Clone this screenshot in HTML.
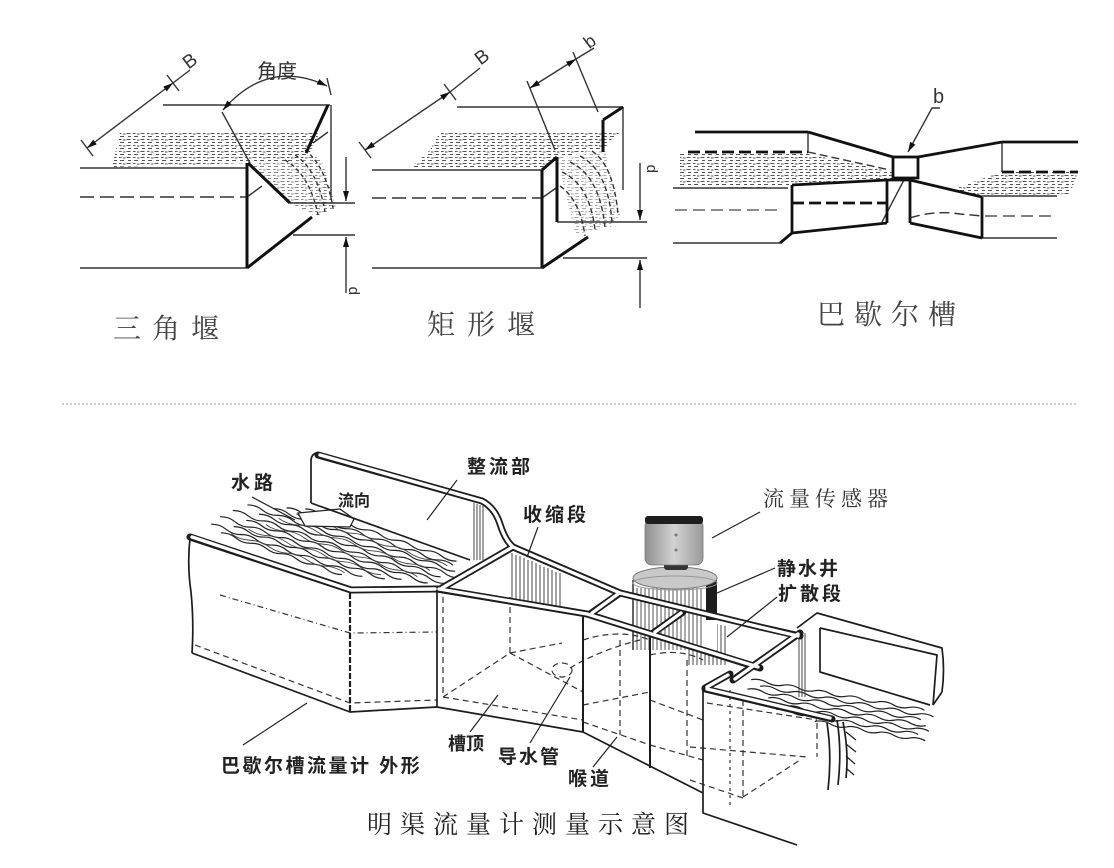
<!DOCTYPE html>
<html><head><meta charset="utf-8"><style>
html,body{margin:0;padding:0;background:#fff;}
svg{display:block;}
.s{font-family:"Liberation Sans","Noto Sans CJK SC",sans-serif;}
.r{font-family:"Liberation Serif","Noto Serif CJK SC",serif;}
</style></head><body>
<svg width="1114" height="868" viewBox="0 0 1114 868" xmlns="http://www.w3.org/2000/svg">
<defs>
<pattern id="sp" width="14" height="6" patternUnits="userSpaceOnUse">
<path d="M0.5,1.5h4M7,1.5h2.5M11,2h2.5M2,4.5h3M8,4.5h4" stroke="#555" stroke-width="1.1"/>
</pattern>
<marker id="ar" viewBox="0 0 10 6" refX="10" refY="3" markerWidth="10" markerHeight="6" markerUnits="userSpaceOnUse" orient="auto-start-reverse"><path d="M0,0L10,3L0,6z" fill="#111"/></marker>
<linearGradient id="hd" x1="0" x2="1"><stop offset="0" stop-color="#8e8e8e"/><stop offset="0.5" stop-color="#d2d2d2"/><stop offset="1" stop-color="#9a9a9a"/></linearGradient>
</defs>

<!-- ============ TRIANGLE WEIR ============ -->
<polygon points="120,132 320,132 306,160 250,163 112,167" fill="url(#sp)"/>
<polygon points="252,165 300,150 322,160 336,208 316,216 292,204" fill="url(#sp)" opacity="0.7"/>
<g fill="none" stroke="#333" stroke-width="1.4">
<line x1="80" y1="168" x2="247" y2="168"/>
<line x1="80" y1="197" x2="247" y2="197" stroke-dasharray="14 6"/>
<line x1="80" y1="268" x2="247" y2="268"/>
<line x1="163" y1="105" x2="330" y2="105"/>
<line x1="331" y1="105" x2="331" y2="200"/>
<line x1="222" y1="112" x2="250" y2="163"/>
<line x1="290" y1="203" x2="355" y2="203"/>
<line x1="293" y1="235" x2="355" y2="235"/>
<line x1="247" y1="197" x2="262" y2="186"/>
<line x1="313" y1="143" x2="328" y2="132"/>
<path d="M285,160 Q310,175 318,215" stroke-dasharray="4 3"/>
<path d="M295,155 Q318,170 325,212" stroke-dasharray="4 3"/>
<path d="M305,150 Q326,166 333,208" stroke-dasharray="4 3"/>
<path d="M346,157 L346,201" marker-end="url(#ar)"/>
<path d="M346,293 L346,237" marker-end="url(#ar)"/>
<path d="M87,148 L173,83" marker-start="url(#ar)" marker-end="url(#ar)"/>
<line x1="173" y1="83" x2="190" y2="70"/>
<line x1="81" y1="140" x2="93" y2="156"/>
<line x1="167" y1="75" x2="179" y2="91"/>
<path d="M223,110 Q268,58 327,86" marker-start="url(#ar)" marker-end="url(#ar)"/>
<line x1="327" y1="78" x2="331" y2="95"/>
</g>
<g fill="none" stroke="#111" stroke-width="3">
<line x1="247" y1="163" x2="247" y2="268"/>
<line x1="247" y1="268" x2="312" y2="217"/>
<line x1="248" y1="163" x2="290" y2="203"/>
<line x1="328" y1="105" x2="306" y2="153"/>
</g>
<text x="183" y="67" font-size="19" class="s" fill="#333" transform="rotate(-37 190 60)">B</text>
<text x="257" y="78" font-size="20" class="s" fill="#333">角度</text>
<text x="345" y="297" font-size="15" class="s" fill="#333" transform="rotate(-90 350 290)">p</text>
<text x="113" y="338" font-size="28" letter-spacing="11" fill="#444" class="r">三角堰</text>

<!-- ============ RECT WEIR ============ -->
<polygon points="440,132 620,132 605,148 560,158 545,167 410,168 430,150" fill="url(#sp)"/>
<polygon points="558,160 605,150 620,215 610,228 575,234" fill="url(#sp)" opacity="0.5"/>
<g fill="none" stroke="#333" stroke-width="1.4">
<line x1="372" y1="170" x2="542" y2="170"/>
<line x1="372" y1="198" x2="542" y2="198" stroke-dasharray="14 6"/>
<line x1="372" y1="268" x2="542" y2="268"/>
<line x1="557" y1="222" x2="647" y2="222"/>
<line x1="563" y1="258" x2="647" y2="258"/>
<line x1="457" y1="107" x2="623" y2="107"/>
<line x1="623" y1="107" x2="623" y2="190"/>
<line x1="542" y1="198" x2="556" y2="188"/>
<path d="M562,172 Q590,185 595,230" stroke-dasharray="5 3"/>
<path d="M570,162 Q600,176 605,228" stroke-dasharray="5 3"/>
<path d="M580,156 Q608,170 612,222" stroke-dasharray="5 3"/>
<path d="M592,151 Q614,166 618,215" stroke-dasharray="5 3"/>
<path d="M560,186 Q580,200 585,236" stroke-dasharray="5 3"/>
<path d="M640,163 L640,220" marker-end="url(#ar)"/>
<path d="M640,308 L640,260" marker-end="url(#ar)"/>
<path d="M365,150 L450,92" marker-start="url(#ar)" marker-end="url(#ar)"/>
<line x1="450" y1="92" x2="480" y2="68"/>
<line x1="359" y1="142" x2="371" y2="158"/>
<line x1="444" y1="84" x2="456" y2="100"/>
<path d="M530,88 L576,59" marker-start="url(#ar)" marker-end="url(#ar)"/>
<line x1="576" y1="59" x2="594" y2="48"/>
<line x1="527" y1="81" x2="555" y2="150"/>
<line x1="573" y1="52" x2="598" y2="112"/>
</g>
<g fill="none" stroke="#111" stroke-width="3">
<line x1="542" y1="170" x2="542" y2="268"/>
<line x1="542" y1="268" x2="588" y2="237"/>
<line x1="542" y1="170" x2="557" y2="157"/>
<line x1="557" y1="157" x2="557" y2="222"/>
<line x1="603" y1="120" x2="603" y2="152"/>
<line x1="603" y1="120" x2="623" y2="107"/>
</g>
<text x="475" y="63" font-size="19" class="s" fill="#333" transform="rotate(-37 482 56)">B</text>
<text x="584" y="47" font-size="18" class="s" fill="#333" transform="rotate(-37 590 40)">b</text>
<text x="644" y="172" font-size="15" class="s" fill="#333" transform="rotate(-90 650 167)">p</text>
<text x="427" y="334" font-size="28" letter-spacing="12" fill="#444" class="r">矩形堰</text>

<!-- ============ PARSHALL ============ -->
<polygon points="680,154 808,154 893,172 893,180 792,185 760,188 680,186" fill="url(#sp)"/>
<polygon points="950,190 1002,172 1078,172 1070,194 985,196" fill="url(#sp)"/>
<g fill="none" stroke="#333" stroke-width="1.4">
<line x1="808" y1="132" x2="808" y2="152"/>
<line x1="1002" y1="142" x2="1002" y2="172"/>
<line x1="808" y1="152" x2="890" y2="170" stroke-dasharray="8 4"/>
<line x1="673" y1="188" x2="788" y2="188"/>
<line x1="673" y1="243" x2="780" y2="243"/>
<line x1="982" y1="196" x2="1057" y2="196"/>
<line x1="982" y1="238" x2="1057" y2="238"/>
<line x1="675" y1="210" x2="780" y2="210" stroke-dasharray="12 6" stroke="#666"/>
<path d="M910,218 Q935,210 960,214 L982,216" stroke-dasharray="10 5"/>
<line x1="985" y1="216" x2="1057" y2="216" stroke-dasharray="12 6" stroke="#555"/>
<path d="M940,108 L932,108 L908,152" marker-end="url(#ar)"/>
<line x1="905" y1="178" x2="882" y2="222"/>
</g>
<g fill="none" stroke="#111" stroke-width="2.8">
<line x1="695" y1="132" x2="808" y2="132"/>
<line x1="808" y1="132" x2="893" y2="157"/>
<rect x="893" y="157" width="25" height="21"/>
<line x1="918" y1="157" x2="1002" y2="142"/>
<line x1="1002" y1="142" x2="1078" y2="142"/>
<line x1="688" y1="152" x2="808" y2="152" stroke-dasharray="12 5"/>
<line x1="1002" y1="172" x2="1078" y2="172" stroke-dasharray="12 5"/>
<line x1="780" y1="243" x2="792" y2="233"/>
<line x1="792" y1="185" x2="792" y2="233"/>
<line x1="792" y1="185" x2="887" y2="180"/>
<line x1="792" y1="233" x2="887" y2="223"/>
<line x1="887" y1="180" x2="887" y2="223"/>
<line x1="910" y1="180" x2="910" y2="223"/>
<line x1="887" y1="180" x2="910" y2="180"/>
<line x1="910" y1="180" x2="982" y2="197"/>
<line x1="910" y1="223" x2="982" y2="238"/>
<line x1="982" y1="197" x2="982" y2="238"/>
<line x1="792" y1="203" x2="887" y2="203" stroke-dasharray="12 5"/>
</g>
<text x="933" y="103" font-size="20" class="s" fill="#333">b</text>
<text x="817" y="324" font-size="28" letter-spacing="9" fill="#444" class="r">巴歇尔槽</text>

<!-- divider -->
<line x1="62" y1="404" x2="1078" y2="404" stroke="#cfcfcf" stroke-width="2" stroke-dasharray="2 2"/>

<!-- ============ BOTTOM DIAGRAM ============ -->
<!-- inlet water -->
<g transform="translate(200,532) rotate(19)" fill="none" stroke="#222" stroke-width="1.2">
<path d="M20,-6q8,-3 16,0t16,0t16,0t16,0t16,0t16,0t16,0t16,0"/>
<path d="M8,-11q8,-3 16,0t16,0t16,0t16,0t16,0t16,0t16,0t16,0t16,0t16,0"/>
<path d="M30,-16q8,-3 16,0t16,0t16,0t16,0t16,0t16,0t16,0t16,0t16,0t16,0"/>
<path d="M14,-21q8,-3 16,0t16,0t16,0t16,0t16,0t16,0t16,0t16,0t16,0t16,0t16,0t16,0"/>
<path d="M40,-26q8,-3 16,0t16,0t16,0t16,0t16,0t16,0t16,0t16,0t16,0t16,0t16,0t16,0"/>
<path d="M24,-31q8,-3 16,0t16,0t16,0t16,0t16,0t16,0t16,0t16,0t16,0t16,0t16,0t16,0t16,0t16,0"/>
<path d="M50,-36q8,-3 16,0t16,0t16,0t16,0t16,0t16,0t16,0t16,0t16,0t16,0t16,0t16,0"/>
<path d="M36,-41q8,-3 16,0t16,0t16,0t16,0t16,0t16,0t16,0t16,0t16,0t16,0t16,0t16,0t16,0t16,0"/>
<path d="M62,-46q8,-3 16,0t16,0t16,0t16,0t16,0t16,0t16,0t16,0t16,0t16,0t16,0t16,0"/>
<path d="M74,-51q8,-3 16,0t16,0t16,0t16,0t16,0t16,0t16,0t16,0t16,0t16,0t16,0"/>
<path d="M92,-56q8,-3 16,0t16,0t16,0t16,0t16,0t16,0t16,0t16,0t16,0t16,0"/>
</g>
<g transform="translate(200,532) rotate(19)" fill="none" stroke="#444" stroke-width="0.9">
<path d="M30,-8.5q10,3 20,0t20,0t20,0t20,0t20,0t20,0"/>
<path d="M45,-18.5q10,3 20,0t20,0t20,0t20,0t20,0t20,0t20,0"/>
<path d="M60,-28.5q10,3 20,0t20,0t20,0t20,0t20,0t20,0t20,0t20,0"/>
<path d="M70,-38.5q10,3 20,0t20,0t20,0t20,0t20,0t20,0t20,0t20,0"/>
<path d="M85,-48.5q10,3 20,0t20,0t20,0t20,0t20,0t20,0t20,0t20,0"/>
</g>
<path d="M298,513 L340,509 L354,519 L350,527 L305,526 Z" fill="#fff" stroke="#222" stroke-width="1.3"/>

<!-- outlet water -->
<g transform="translate(742,674) rotate(10)" fill="none" stroke="#222" stroke-width="1.2">
<path d="M10,4q8,-3 16,0t16,0t16,0t16,0t16,0t16,0t16,0t16,0t16,0t16,0t16,0"/>
<path d="M20,9q8,-3 16,0t16,0t16,0t16,0t16,0t16,0t16,0t16,0t16,0t16,0t16,0"/>
<path d="M8,14q8,-3 16,0t16,0t16,0t16,0t16,0t16,0t16,0t16,0t16,0t16,0t16,0"/>
<path d="M30,19q8,-3 16,0t16,0t16,0t16,0t16,0t16,0t16,0t16,0t16,0t16,0"/>
<path d="M18,24q8,-3 16,0t16,0t16,0t16,0t16,0t16,0t16,0t16,0t16,0t16,0t16,0"/>
<path d="M40,29q8,-3 16,0t16,0t16,0t16,0t16,0t16,0t16,0t16,0t16,0"/>
<path d="M80,34q8,-3 16,0t16,0t16,0t16,0t16,0t16,0t16,0"/>
</g>

<!-- hatched columns -->
<g stroke="#333" stroke-width="0.9">
<path d="M474,503V560M477,504V560M480,505V560M483,506V560"/>
<path d="M512,553V600M516,555V601M520,556V602M524,558V603M528,560V604M532,561V604M536,563V605M540,565V606M544,567V606M548,568V607M552,570V607M556,572V608M560,573V608"/>
<path d="M689,617V665M693,618V665M697,619V665M701,620V665M705,621V665M709,622V665M713,623V665M717,624V665M721,625V665M725,626V665"/>
<path d="M799,633V697M802,633V697M805,633V697"/>
</g>

<!-- sensor / stilling well -->
<rect x="633" y="576" width="84" height="74" fill="#fff"/>
<g stroke="#444" stroke-width="0.9">
<path d="M637,588V650M641,588V650M645,588V650M649,588V650M653,588V650M657,588V650M661,588V650M665,588V650M669,588V650M673,588V650M677,588V650M681,588V650M685,588V650M689,588V650M693,588V650M697,588V650M701,588V650"/>
</g>
<line x1="633" y1="580" x2="633" y2="650" stroke="#222" stroke-width="1.4"/>
<rect x="706" y="580" width="11" height="40" fill="#1c1c1c"/>
<ellipse cx="675" cy="578" rx="42" ry="11" fill="#c9c9c9" stroke="#777" stroke-width="1"/>
<ellipse cx="675" cy="583" rx="42" ry="7" fill="none" stroke="#999" stroke-width="1"/>
<rect x="664" y="561" width="24" height="9" rx="3" fill="#333"/>
<rect x="645" y="519" width="58" height="46" rx="7" fill="url(#hd)" stroke="#777" stroke-width="0.8"/>
<rect x="645" y="516" width="58" height="8" rx="3" fill="#1e1e1e"/>
<circle cx="676" cy="535" r="1.5" fill="#777"/>
<circle cx="676" cy="550" r="1.5" fill="#777"/>

<!-- hidden dashed lines -->
<g fill="none" stroke="#333" stroke-width="1.2" stroke-dasharray="6 4">
<path d="M195,645 L350,703 L437,700"/>
<path d="M220,595 L350,633 L437,632" stroke-dasharray="6 3 1 3"/>
<path d="M443,597 L443,697"/>
<path d="M443,697 L510,653"/>
<path d="M510,597 L510,653"/>
<path d="M510,653 L583,692"/>
<path d="M443,697 L583,720"/>
<path d="M510,653 L562,643"/>
<ellipse cx="562" cy="670" rx="10" ry="7"/>
<path d="M570,668 Q600,650 640,640"/>
<path d="M583,640 Q620,628 650,640"/>
<path d="M583,705 L650,692"/>
<path d="M650,655 Q680,648 703,660"/>
<path d="M620,640 L620,735"/>
<path d="M583,722 L650,745"/>
<path d="M650,700 L703,720"/>
<path d="M687,660 L687,760"/>
<path d="M650,745 L703,760"/>
<path d="M707,703 L817,720"/>
<path d="M690,747 L807,757"/>
<path d="M730,690 L730,807" stroke-dasharray="3 4"/>
<path d="M743,700 L743,797"/>
<path d="M743,797 L800,760"/>
<path d="M690,780 L743,798"/>
<path d="M817,723 L817,757"/>
</g>

<!-- solid outlines -->
<g fill="none" stroke="#1c1c1c" stroke-width="1.7" stroke-linejoin="round">
<path d="M190,538 Q187,565 191,592 Q194,622 192,653"/>
<path d="M192,653 L350,712 L437,707 L583,732 L703,793"/>
<line x1="350" y1="593" x2="350" y2="712" stroke-width="2.2" stroke-dasharray="6 2"/>
<line x1="437" y1="591" x2="437" y2="707"/>
<line x1="583" y1="615" x2="583" y2="732" stroke-width="2"/>
<line x1="650" y1="632" x2="650" y2="768" stroke-width="2"/>
<path d="M311,503 L311,460 Q312,452 320,453 L480,498"/>
<path d="M311,503 L470,560"/>
<path d="M703,688 L703,813 L797,845"/>
<path d="M827,723 Q832,755 828,790"/>
<path d="M837,720 Q842,750 838,785"/>
<path d="M843,722 Q849,752 846,778"/>
<path d="M846,732 l10,8M846,744 l10,8M846,756 l9,8M846,768 l8,7" stroke-width="1.2"/>
<path d="M797,628 L817,613 L942,648 Q945,670 942,692"/>
<path d="M820,628 L937,655 L933,705"/>
<path d="M820,628 L820,672 L930,705"/>
<path d="M942,692 L933,705"/>
</g>

<!-- double-line rails / wall tops -->
<g fill="none" stroke="#1c1c1c" stroke-width="7" stroke-linejoin="round" stroke-linecap="round">
<path d="M190,537 L351,590 L437,589"/>
<path d="M318,455 L482,501 Q495,508 500,524 Q505,540 513,547"/>
<path d="M437,589 L587,614 L760,668"/>
<path d="M513,547 L620,593 L760,627 L800,636"/>
<path d="M440,589 L513,547"/>
<path d="M590,614 L620,593"/>
<path d="M653,633 L683,612"/>
<path d="M800,633 L733,680"/>
<path d="M705,689 L832,719"/>
<path d="M705,688 L730,674"/>
</g>
<g fill="none" stroke="#fff" stroke-width="3.4" stroke-linejoin="round" stroke-linecap="round">
<path d="M192,537 L351,590 L435,589"/>
<path d="M320,455 L482,501 Q495,508 500,524 Q505,540 513,547"/>
<path d="M439,589 L587,614 L758,667"/>
<path d="M513,547 L620,593 L760,627 L798,636"/>
<path d="M442,588 L511,548"/>
<path d="M592,613 L618,594"/>
<path d="M655,632 L681,613"/>
<path d="M798,634 L735,679"/>
<path d="M707,689 L830,718"/>
<path d="M707,687 L728,675"/>
</g>

<!-- leaders -->
<g stroke="#222" stroke-width="1.2" fill="none">
<path d="M252,497 L295,520"/>
<path d="M457,480 L427,520"/>
<path d="M538,527 L527,557"/>
<path d="M760,512 L712,538"/>
<path d="M775,568 L717,593"/>
<path d="M777,597 L727,637"/>
<path d="M470,732 L498,695"/>
<path d="M530,743 L570,677"/>
<path d="M593,767 L617,737"/>
<path d="M243,745 L307,703"/>
</g>

<!-- labels -->
<g class="s" font-weight="bold" fill="#222">
<text x="231" y="489" font-size="19" letter-spacing="4">水路</text>
<text x="338" y="506" font-size="16">流向</text>
<text x="467" y="473" font-size="19" letter-spacing="3">整流部</text>
<text x="523" y="521" font-size="19" letter-spacing="3">收缩段</text>
<text x="777" y="575" font-size="19" letter-spacing="2">静水井</text>
<text x="778" y="600" font-size="19" letter-spacing="3">扩散段</text>
<text x="448" y="750" font-size="18">槽顶</text>
<text x="498" y="763" font-size="19" letter-spacing="2">导水管</text>
<text x="568" y="785" font-size="19" letter-spacing="3">喉道</text>
<text x="221" y="772" font-size="19" letter-spacing="2.5">巴歇尔槽流量计 外形</text>
</g>
<text x="763" y="506" font-size="21" letter-spacing="5" class="r" fill="#333">流量传感器</text>
<text x="367" y="833" font-size="25" letter-spacing="8" class="r" fill="#222">明渠流量计测量示意图</text>
</svg>
</body></html>
